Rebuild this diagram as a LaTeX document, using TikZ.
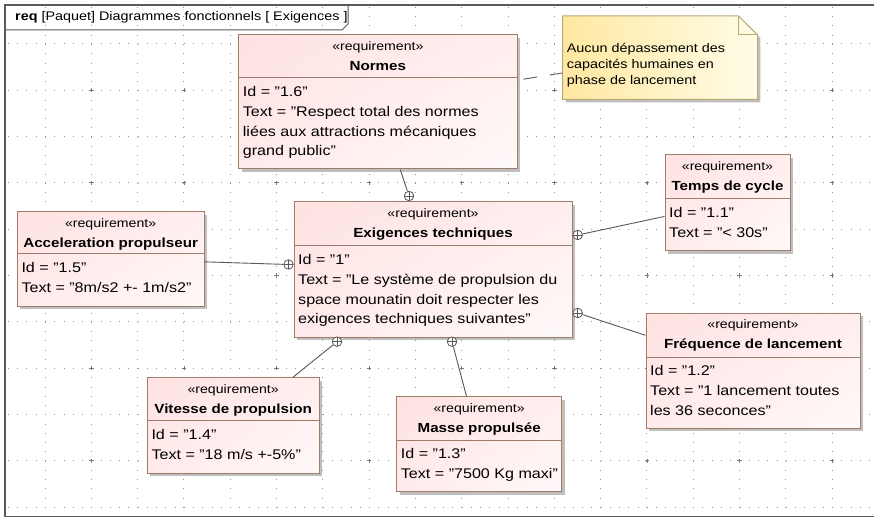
\documentclass[tikz,border=0pt]{standalone}
\usepackage{fontspec}
\setmainfont{Liberation Sans}[FakeStretch=1.15]
\usetikzlibrary{calc,fit,shadings}
\definecolor{reqpink}{RGB}{255,226,226}
\definecolor{reqborder}{RGB}{160,125,105}
\definecolor{notey}{RGB}{255,232,160}
\definecolor{notew}{RGB}{255,252,232}
\definecolor{noteborder}{RGB}{185,170,115}
\definecolor{gridc}{RGB}{150,150,150}
\definecolor{framec}{RGB}{90,90,90}
\tikzset{
  reqnode/.style={draw=reqborder, line width=1pt, inner sep=0pt,
    upper left=reqpink, upper right=reqpink!60!white,
    lower left=reqpink!70!white, lower right=reqpink!20!white},
  reqline/.style={draw=reqborder, line width=1pt},
  shadowc/.style={fill=black!25},
  stereo/.style={anchor=base, inner sep=0pt, font=\fontsize{12.3}{14}\selectfont},
  rname/.style={anchor=base, inner sep=0pt, font=\bfseries\fontsize{13.2}{16}\selectfont},
  bodytxt/.style={anchor=base west, inner sep=0pt, font=\fontsize{14}{16}\selectfont},
  notetxt/.style={anchor=base west, inner sep=0pt, font=\fontsize{12.5}{15}\selectfont},
  conn/.style={draw=black!65, line width=0.9pt},
  contain/.style={circle, draw=black!65, line width=0.8pt, fill=white, minimum size=9.5pt, inner sep=0pt,
    path picture={\draw[black!65, line width=0.7pt]
      (path picture bounding box.north) -- (path picture bounding box.south)
      (path picture bounding box.west) -- (path picture bounding box.east);}},
  gridline/.style={draw=gridc, line width=1pt, dash pattern=on 1pt off 8.26pt},
}
\newcommand\mkreq[8]{%
  \fill[shadowc] ($(#2,#3)+(3,3)$) rectangle ($(#4,#5)+(3,3)$);
  \node[reqnode, fit={(#2,#3) (#4,#5)}] (#1) {};
  \draw[reqline] (#2,#6) -- (#4,#6);
  \node[stereo] (#1-st) at ($(#1.north)+(0,16)$) {«requirement»};
  \node[rname] (#1-nm) at ($(#1.north)+(0,36)$) {#7};
  \foreach \txtline [count=\i] in {#8} {
    \node[bodytxt] (#1-b\i) at (#2+4, #6+18.7+19.7*\i-19.7) {\txtline};
  }
}
\begin{document}
\begin{tikzpicture}[x=1pt, y=-1pt]
\useasboundingbox (0,0) rectangle (874,518);
\fill[white] (0,0) rectangle (874,518);
% grid
\foreach \k in {0,...,10} {
  \draw[gridline] (7.96,44+46.3*\k) -- (874,44+46.3*\k);
}
\foreach \k in {0,...,17} {
  \draw[gridline] (45+46.3*\k,6.96) -- (45+46.3*\k,516);
}
\foreach \m in {0,...,8} {
  \foreach \n in {0,...,4} {
    \draw[gridc!80!black, line width=0.8pt]
      (45+46.3*\m*2+46.3-2.2, 44+46.3*\n*2+46.3) -- ++(4.4,0)
      (45+46.3*\m*2+46.3, 44+46.3*\n*2+46.3-2.2) -- ++(0,4.4);
  }
}
% frame
\draw[framec, line width=1.5pt] (874,5) -- (5,5) -- (5,516.5) -- (874,516.5);
\draw[framec, line width=1pt] (5,5) -- (348,5) -- (348,24) -- (342,30) -- (5,30);
\node[anchor=base west, inner sep=0pt, font=\fontsize{12.5}{15}\selectfont] (title) at (15,21)
  {\textbf{req} [Paquet] Diagrammes fonctionnels [ Exigences ]};
% note
\node[fit={(562.7,16) (757.3,99.3)}, inner sep=0pt] (note) {};
\fill[shadowc] (565.7,19) -- (741,19) -- (760.3,38) -- (760.3,102.3) -- (565.7,102.3) -- cycle;
\shade[left color=notey, right color=notew, draw=noteborder, line width=1pt]
  (note.north west) -- ($(note.north east)+(-19.3,0)$) -- ($(note.north east)+(0,19)$)
  -- (note.south east) -- (note.south west) -- cycle;
\draw[noteborder, line width=1pt] ($(note.north east)+(-19.3,0)$) -- ($(note.north east)+(-19.3,19)$) -- ($(note.north east)+(0,19)$);
\node[notetxt] (n1) at (566.7,52.8) {Aucun dépassement des};
\node[notetxt] (n2) at (566.7,68.6) {capacités humaines en};
\node[notetxt] (n3) at (566.7,84.4) {phase de lancement};
% requirements
\mkreq{norm}{238.7}{35}{517}{169}{78}{Normes}{Id = "1.6",Text = "Respect total des normes,liées aux attractions mécaniques,grand public"}
\mkreq{exig}{294}{202}{572}{337}{246}{Exigences techniques}{Id = "1",Text = "Le système de propulsion du,space mounatin doit respecter les,exigences techniques suivantes"}
\mkreq{accel}{17.3}{211.7}{204}{306}{254}{Acceleration propulseur}{Id = "1.5",Text = "8m/s2 +- 1m/s2"}
\mkreq{temps}{665}{155}{790}{251}{199}{Temps de cycle}{Id = "1.1",Text = "< 30s"}
\mkreq{freq}{646}{313}{860}{428}{357}{Fréquence de lancement}{Id = "1.2",Text = "1 lancement toutes,les 36 seconces"}
\mkreq{vit}{147.3}{377.7}{319}{473.3}{420.7}{Vitesse de propulsion}{Id = "1.4",Text = "18 m/s +-5\%"}
\mkreq{masse}{396.7}{396.7}{561.7}{491.7}{440}{Masse propulsée}{Id = "1.3",Text = "7500 Kg maxi"}
% anchor
\draw[black!65, line width=0.9pt, dash pattern=on 14pt off 13pt, dash phase=21pt] (norm) -- (note);
% containment
\node[contain] (knorm) at (409,196) {};
\node[contain] (ktemps) at (577.7,235) {};
\node[contain] (kaccel) at (288.5,264.5) {};
\node[contain] (kfreq) at (577.7,313) {};
\node[contain] (kvit) at (337,341.7) {};
\node[contain] (kmasse) at (452,341.7) {};
\draw[conn] (knorm) -- (norm);
\draw[conn] (ktemps) -- (temps);
\draw[conn] (kaccel) -- (accel);
\draw[conn] (kfreq) -- (freq);
\draw[conn] (kvit) -- (vit);
\draw[conn] (kmasse) -- (masse);
\end{tikzpicture}
\end{document}
